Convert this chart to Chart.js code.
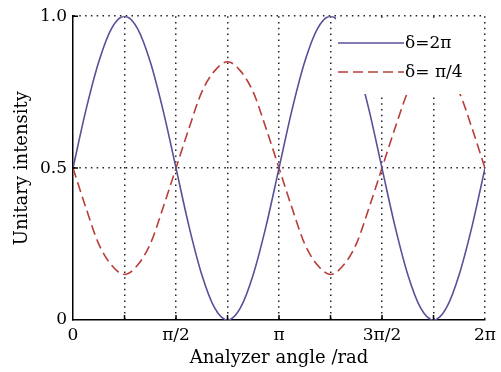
<!DOCTYPE html>
<html>
<head>
<meta charset="utf-8">
<script src="https://cdn.jsdelivr.net/npm/chart.js@4"></script>
<style>
  html, body { margin: 0; padding: 0; background: #fff; }
  canvas { display: block; }
</style>
</head>
<body>
<canvas id="myChart" width="501" height="372"></canvas>
<script>
// analyzer angle samples (rad), every pi/16
const angles = [0.000, 0.196, 0.393, 0.589, 0.785, 0.982, 1.178, 1.374, 1.571, 1.767, 1.963,
  2.160, 2.356, 2.553, 2.749, 2.945, 3.142, 3.338, 3.534, 3.731, 3.927, 4.123, 4.320,
  4.516, 4.712, 4.909, 5.105, 5.301, 5.498, 5.694, 5.890, 6.087, 6.283];

// delta = 2pi
const intensity2pi = [0.50, 0.69, 0.85, 0.96, 1.00, 0.96, 0.85, 0.69, 0.50, 0.31, 0.15,
  0.04, 0.00, 0.04, 0.15, 0.31, 0.50, 0.69, 0.85, 0.96, 1.00, 0.96, 0.85,
  0.69, 0.50, 0.31, 0.15, 0.04, 0.00, 0.04, 0.15, 0.31, 0.50];

// delta = pi/4
const intensityPi4 = [0.50, 0.37, 0.25, 0.18, 0.15, 0.18, 0.25, 0.37, 0.50, 0.63, 0.75,
  0.82, 0.85, 0.82, 0.75, 0.63, 0.50, 0.37, 0.25, 0.18, 0.15, 0.18, 0.25,
  0.37, 0.50, 0.63, 0.75, 0.82, 0.85, 0.82, 0.75, 0.63, 0.50];

const xTickValues = [0, 0.785398, 1.570796, 2.356194, 3.141593, 3.926991, 4.712389, 5.497787, 6.283185];
const xTickLabels = ['0', '', 'π/2', '', 'π', '', '3π/2', '', '2π'];
const yTickValues = [0, 0.5, 1];
const yTickLabels = ['0', '0.5', '1.0'];

const seriesLabels = ['δ=2π', 'δ= π/4'];

const FONT = 'DejaVu Serif';
const BLUE = 'rgb(88, 80, 152)';
const RED = 'rgb(184, 62, 58)';
const DOTS = [1.5, 4.3];

function pts(ys) {
  return ys.map((y, i) => ({ x: angles[i], y: y }));
}

// white legend box inside the plot, inward ticks
const insideLegend = {
  id: 'insideLegend',
  afterDatasetsDraw(chart) {
    const ctx = chart.ctx;
    const xs = chart.scales.x;
    const ys = chart.scales.y;
    ctx.save();

    // inward tick marks
    ctx.strokeStyle = '#000';
    ctx.lineWidth = 1.5;
    ctx.setLineDash([]);
    ctx.beginPath();
    xTickValues.slice(1, -1).forEach((v) => {
      const px = xs.getPixelForValue(v);
      ctx.moveTo(px, ys.bottom);
      ctx.lineTo(px, ys.bottom - 5);
    });
    yTickValues.slice(1).forEach((v) => {
      const py = ys.getPixelForValue(v);
      ctx.moveTo(xs.left, py);
      ctx.lineTo(xs.left + 5, py);
    });
    ctx.stroke();

    // legend
    ctx.fillStyle = '#fff';
    ctx.fillRect(336, 18, 148, 76);

    const rows = [
      { color: BLUE, dash: [], y: 43 },
      { color: RED, dash: [10, 5], y: 72 },
    ];
    rows.forEach((r, i) => {
      ctx.strokeStyle = r.color;
      ctx.lineWidth = 1.6;
      ctx.setLineDash(r.dash);
      ctx.beginPath();
      ctx.moveTo(338, r.y);
      ctx.lineTo(404, r.y);
      ctx.stroke();
      ctx.setLineDash([]);
      ctx.fillStyle = '#000';
      ctx.font = '17px "' + FONT + '"';
      ctx.textAlign = 'left';
      ctx.textBaseline = 'middle';
      ctx.fillText(seriesLabels[i], 405, r.y + 1);
    });
    ctx.restore();
  },
};

const ctx = document.getElementById('myChart').getContext('2d');

new Chart(ctx, {
  type: 'line',
  data: {
    datasets: [
      {
        label: seriesLabels[0],
        data: pts(intensity2pi),
        borderColor: BLUE,
        borderWidth: 1.6,
        pointRadius: 0,
        cubicInterpolationMode: 'monotone',
        fill: false,
      },
      {
        label: seriesLabels[1],
        data: pts(intensityPi4),
        borderColor: RED,
        borderWidth: 1.6,
        borderDash: [10, 5],
        pointRadius: 0,
        cubicInterpolationMode: 'monotone',
        fill: false,
      },
    ],
  },
  options: {
    responsive: false,
    animation: false,
    layout: { padding: { top: 14, right: 14, left: 0, bottom: 0 } },
    plugins: {
      legend: { display: false },
      tooltip: { enabled: false },
    },
    scales: {
      x: {
        type: 'linear',
        min: 0,
        max: 6.283185,
        afterBuildTicks: (scale) => {
          scale.ticks = xTickValues.map((v) => ({ value: v }));
        },
        afterFit: (scale) => {
          scale.height = 52;
        },
        ticks: {
          autoSkip: false,
          maxRotation: 0,
          padding: 5,
          color: '#000',
          font: { family: FONT, size: 17 },
          callback: (value, index) => xTickLabels[index],
        },
        grid: {
          drawTicks: false,
          color: (c) => (c.index === 0 ? 'rgba(0,0,0,0)' : '#222'),
          lineWidth: 1.5,
        },
        border: { display: true, color: '#000', width: 1.5, dash: DOTS },
        title: {
          display: true,
          text: 'Analyzer angle /rad',
          color: '#000',
          font: { family: FONT, size: 18 },
          padding: { top: 0, bottom: 3 },
        },
      },
      y: {
        min: 0,
        max: 1,
        afterBuildTicks: (scale) => {
          scale.ticks = yTickValues.map((v) => ({ value: v }));
        },
        afterFit: (scale) => {
          scale.width = 73;
        },
        ticks: {
          padding: 6,
          color: '#000',
          font: { family: FONT, size: 17 },
          callback: (value, index) => yTickLabels[index],
        },
        grid: {
          drawTicks: false,
          color: (c) => (c.index === 0 ? 'rgba(0,0,0,0)' : '#222'),
          lineWidth: 1.5,
        },
        border: { display: true, color: '#000', width: 1.5, dash: DOTS },
        title: {
          display: true,
          text: 'Unitary intensity',
          color: '#000',
          font: { family: FONT, size: 18 },
          padding: { top: 12, bottom: 0 },
        },
      },
    },
  },
  plugins: [insideLegend],
});
</script>
</body>
</html>
